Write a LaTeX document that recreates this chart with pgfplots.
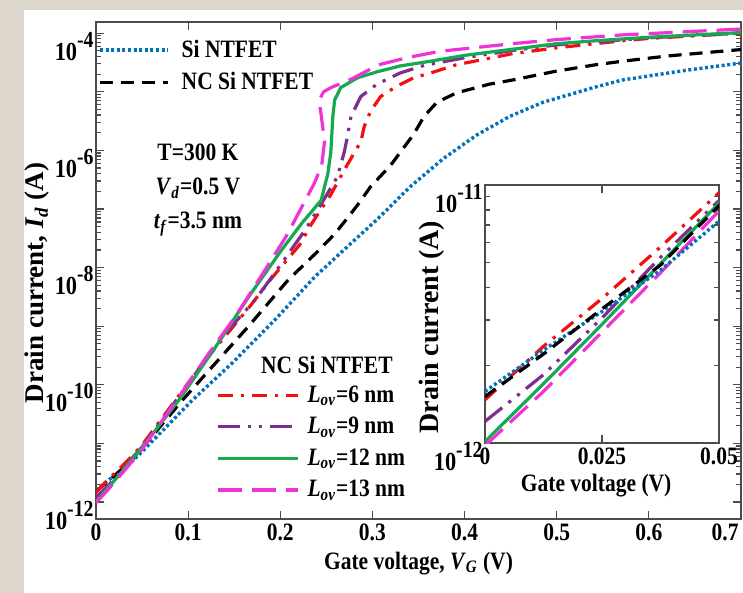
\documentclass[border=0pt]{standalone}
\usepackage{fontspec}
\setmainfont{Liberation Serif}[FakeStretch=0.86]
\newfontfamily\nsfont{Liberation Serif}
\usepackage{pgfplots}
\usepackage{pgfplotstable}
\pgfplotsset{compat=1.18}
\definecolor{bgc}{RGB}{221,214,204}
\definecolor{mblue}{RGB}{0,114,189}
\definecolor{mred}{RGB}{245,15,15}
\definecolor{mpurple}{RGB}{126,47,142}
\definecolor{mgreen}{RGB}{20,170,80}
\definecolor{mmag}{RGB}{240,50,215}
\newcommand{\lf}{\fontsize{12.5}{15}\selectfont\bfseries}
\newcommand{\yf}{\fontsize{13.5}{16}\nsfont\bfseries}
\newcommand{\yfi}{\fontsize{14}{16}\nsfont\bfseries}
\newcommand{\tk}[1]{{\fontsize{13}{15}\selectfont\bfseries 10\raisebox{6.5pt}{\fontsize{11.5}{12}\selectfont -#1}}}

\pgfplotstableread{
x y
0 1.585e-12
0.0125 2.291e-12
0.025 3.236e-12
0.0375 4.677e-12
0.05 7.244e-12
0.1047 5.495e-11
0.1477 2.344e-10
0.1943 1.288e-9
0.2373 6.918e-9
0.273 2.291e-8
0.305 6.607e-8
0.341 2.399e-7
0.377 7.244e-7
0.413 1.820e-6
0.449 3.802e-6
0.485 6.607e-6
0.542 1.202e-5
0.571 1.585e-5
0.642 2.344e-5
0.70 3.090e-5
}\tblue

\pgfplotstableread{
x y
0 1.514e-12
0.0125 2.213e-12
0.025 3.311e-12
0.0375 4.898e-12
0.05 8.318e-12
0.0939 5.495e-11
0.1297 2.344e-10
0.1656 1.000e-9
0.2086 6.166e-9
0.2409 1.905e-8
0.2588 3.715e-8
0.2696 6.026e-8
0.284 1.175e-7
0.298 2.399e-7
0.32 5.623e-7
0.345 1.905e-6
0.356 3.802e-6
0.37 6.607e-6
0.391 9.550e-6
0.427 1.349e-5
0.452 1.585e-5
0.499 2.239e-5
0.542 2.884e-5
0.571 3.311e-5
0.62 4.074e-5
0.70 5.248e-5
}\tblack

\pgfplotstableread{
x y
0 1.472e-12
0.0125 2.371e-12
0.025 3.631e-12
0.0375 5.754e-12
0.05 9.333e-12
0.117 2.455e-10
0.1656 2.042e-9
0.1907 6.607e-9
0.2211 2.455e-8
0.2337 5.495e-8
0.255 1.778e-7
0.2696 4.677e-7
0.280 8.913e-7
0.2875 1.413e-6
0.291 2.512e-6
0.298 4.677e-6
0.309 8.318e-6
0.327 1.259e-5
0.345 1.738e-5
0.363 2.089e-5
0.391 2.884e-5
0.452 4.467e-5
0.50 5.623e-5
0.571 7.413e-5
0.60 8.128e-5
0.70 1.000e-4
}\tred

\pgfplotstableread{
x y
0 1.213e-12
0.0125 1.841e-12
0.025 3.055e-12
0.0375 5.248e-12
0.05 8.710e-12
0.09 6.310e-11
0.137 6.607e-10
0.1728 2.818e-9
0.2014 1.175e-8
0.2265 4.266e-8
0.245 1.259e-7
0.262 3.548e-7
0.2696 9.550e-7
0.273 1.778e-6
0.2767 3.802e-6
0.2875 8.318e-6
0.305 1.349e-5
0.33 2.089e-5
0.356 2.818e-5
0.40 3.802e-5
0.45 5.012e-5
0.50 6.310e-5
0.60 8.318e-5
0.70 1.000e-4
}\tpurple

\pgfplotstableread{
x y
0 1.014e-12
0.0125 1.698e-12
0.025 2.884e-12
0.0375 4.955e-12
0.05 8.511e-12
0.09 5.495e-11
0.13 4.467e-10
0.1656 3.162e-9
0.2014 1.995e-8
0.223 5.623e-8
0.2444 1.413e-7
0.2516 3.981e-7
0.2548 9.120e-7
0.2570 3.715e-6
0.2590 7.244e-6
0.2656 1.175e-5
0.2840 1.738e-5
0.3050 2.188e-5
0.3300 2.754e-5
0.3627 3.311e-5
0.40 4.169e-5
0.434 4.898e-5
0.50 6.607e-5
0.542 7.413e-5
0.60 8.511e-5
0.70 1.023e-4
}\tgreen

\pgfplotstableread{
x y
0 9.772e-13
0.0125 1.585e-12
0.025 2.692e-12
0.0375 4.571e-12
0.05 7.943e-12
0.0939 7.586e-11
0.1226 3.467e-10
0.151 1.445e-9
0.1835 9.120e-9
0.2086 3.890e-8
0.2158 6.457e-8
0.237 2.754e-7
0.245 5.623e-7
0.248 1.413e-6
0.2444 3.981e-6
0.2420 7.079e-6
0.2470 1.000e-5
0.2548 1.175e-5
0.2763 1.622e-5
0.2946 2.291e-5
0.309 2.951e-5
0.34 3.890e-5
0.373 4.898e-5
0.452 6.607e-5
0.50 7.762e-5
0.571 9.333e-5
0.70 1.175e-4
}\tmag

\tikzset{
  sblue/.style={color=mblue, line width=1.7pt, line cap=butt, dash pattern=on 1.5pt off 1.3pt},
  sblack/.style={color=black, line width=1.6pt, dash pattern=on 6.5pt off 4pt},
  sred/.style={color=mred, line width=1.6pt, dash pattern=on 7.5pt off 4pt on 1.6pt off 4pt},
  spurple/.style={color=mpurple, line width=1.6pt, dash pattern=on 11pt off 4pt on 1.6pt off 4pt on 1.6pt off 4pt},
  sgreen/.style={color=mgreen, line width=1.6pt},
  smag/.style={color=mmag, line width=1.6pt, dash pattern=on 12pt off 5pt},
}

\begin{document}
\begin{tikzpicture}
\fill[bgc] (0pt,0pt) rectangle (371.5pt,-296.5pt);
\fill[white] (12pt,-5pt) rectangle (371.5pt,-296.5pt);
\path[use as bounding box] (0pt,0pt) rectangle (371.5pt,-296.5pt);

\begin{axis}[
  scale only axis, ymode=log,
  axis line style={draw=black!70, line width=0.8pt},
  tick style={draw=black!70, line width=0.6pt},
  tick align=inside, major tick length=4pt, minor tick length=2.5pt,
  tick label style={font=\lf},
  yticklabel style={yshift=-6.5pt, inner sep=1pt},
  xticklabel style={inner sep=2pt},
  at={(48pt,-259.5pt)}, anchor=south west,
  width=322.5pt, height=248.5pt,
  xmin=0, xmax=0.7, ymin=5.129e-13, ymax=1.549e-4,
  xtick={0,0.1,0.2,0.3,0.4,0.5,0.6},
  xticklabels={0,0.1,0.2,0.3,0.4,0.5,0.6},
  extra x ticks={0.7}, extra x tick labels={0.7},
  extra x tick style={xticklabel style={anchor=north east, xshift=1pt}},
  ytick={1e-12,1e-11,1e-10,1e-9,1e-8,1e-7,1e-6,1e-5,1e-4},
  yticklabels={\tk{12},,\tk{10},,\tk{8},,\tk{6},,\tk{4}},
  xlabel={Gate voltage, \textit{V}\textsubscript{\textit{G}} (V)},
  ylabel={Drain current, \textit{I}\textsubscript{\textit{d}} (A)},
  every axis x label/.style={at={(axis description cs:0.5,-0.089)}, anchor=center, font=\lf},
  every axis y label/.style={at={(axis description cs:-0.0915,0.475)}, anchor=center, rotate=90, font=\yf},
  legend cell align=left,
  legend image code/.code={\draw[#1] (0pt,0pt) -- (34pt,0pt); \path (38pt,0pt);},
  legend style={draw=none, fill=none, at={(rel axis cs:0.003,0.973)}, anchor=north west, font=\lf, row sep=2pt, inner sep=0pt},
]
\addplot[sblue] table {\tblue};
\addlegendentry{Si NTFET}
\addplot[sblack] table {\tblack};
\addlegendentry{NC Si NTFET}
\addplot[sred, forget plot] table {\tred};
\addplot[spurple, forget plot] table {\tpurple};
\addplot[sgreen, forget plot] table {\tgreen};
\addplot[smag, forget plot] table {\tmag};
\node[font=\lf, align=center] at (rel axis cs:0.158,0.662) {T=300 K\\[2pt]\textit{V}\textsubscript{\textit{d}}=0.5 V\\[2pt]\textit{t}\textsubscript{\textit{f}}=3.5 nm};
\node[font=\lf] at (rel axis cs:0.358,0.310) {NC Si NTFET};
\end{axis}

\begin{axis}[
  scale only axis, ymode=log,
  axis line style={draw=black!70, line width=0.8pt},
  tick style={draw=black!70, line width=0.6pt},
  tick align=inside, major tick length=4pt, minor tick length=2.5pt,
  tick label style={font=\lf},
  yticklabel style={yshift=-6.5pt, inner sep=1pt},
  xticklabel style={inner sep=2pt},
  scaled x ticks=false,
  at={(242.5pt,-221.5pt)}, anchor=south west,
  width=117pt, height=129pt,
  xmin=0, xmax=0.05, ymin=1e-12, ymax=1e-11,
  axis background/.style={fill=white},
  xtick={0,0.025,0.05}, xticklabels={0,0.025,0.05},
  ytick={1e-12,1e-11},
  yticklabels={\tk{12},\tk{11}},
  xlabel={Gate voltage (V)},
  ylabel={Drain current (A)},
  every axis x label/.style={at={(axis description cs:0.475,-0.163)}, anchor=center, font=\lf},
  every axis y label/.style={at={(axis description cs:-0.226,0.45)}, anchor=center, rotate=90, font=\yfi},
  legend cell align=left,
  legend image code/.code={\draw[#1] (0pt,0pt) -- (40pt,0pt); \path (42pt,0pt);},
  legend style={draw=none, fill=none, at={(rel axis cs:-1.1496,0.240)}, anchor=north west, font=\lf, row sep=2pt, inner sep=0pt},
]
\addplot[sred] table {\tred};
\addlegendentry{\textit{L}\textsubscript{\textit{ov}}=6 nm}
\addplot[spurple] table {\tpurple};
\addlegendentry{\textit{L}\textsubscript{\textit{ov}}=9 nm}
\addplot[sgreen] table {\tgreen};
\addlegendentry{\textit{L}\textsubscript{\textit{ov}}=12 nm}
\addplot[smag] table {\tmag};
\addlegendentry{\textit{L}\textsubscript{\textit{ov}}=13 nm}
\addplot[sblue, forget plot] table {\tblue};
\addplot[sblack, forget plot] table {\tblack};
\end{axis}
\end{tikzpicture}
\end{document}
